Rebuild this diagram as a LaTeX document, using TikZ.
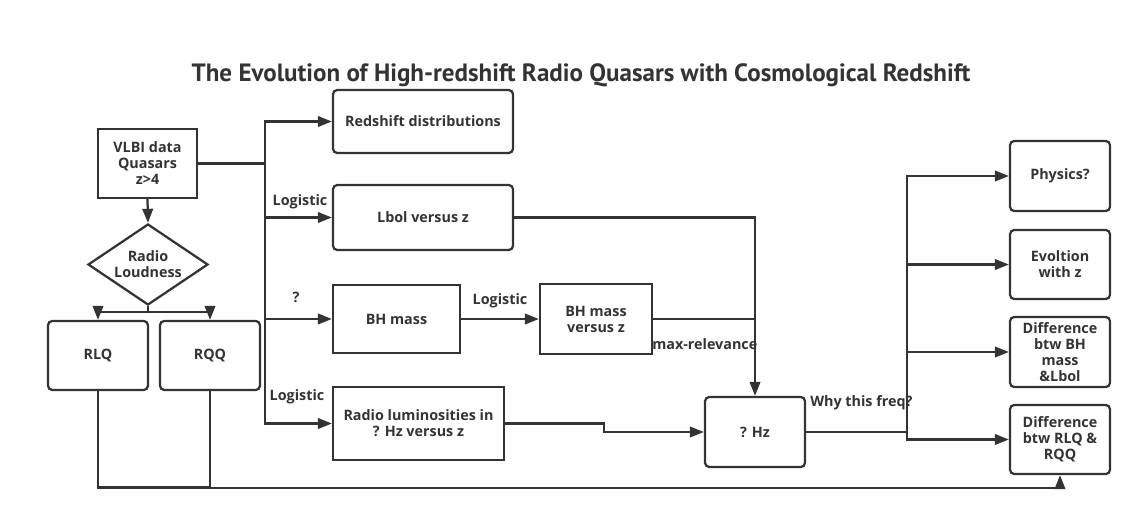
\documentclass[tikz,border=0pt]{standalone}
\usepackage{fontspec}
\setmainfont{Open Sans}
\newfontfamily\titlefont{PT Sans}
\usetikzlibrary{arrows.meta,shapes.geometric}
\definecolor{ink}{HTML}{333333}
\tikzset{
  box/.style={draw=ink, line width=1.6pt, text=ink, font=\bfseries\fontsize{10.2}{11.4}\selectfont, align=center, inner sep=0pt},
  rbox/.style={box, rounded corners=3pt},
  conn/.style={draw=ink, line width=1.6pt},
  arr/.style={conn, -{Triangle[length=10pt,width=7.5pt]}},
  lbl/.style={text=ink, font=\bfseries\fontsize{10.2}{11.4}\selectfont, inner sep=0pt},
}
\begin{document}
\begin{tikzpicture}[x=0.025cm, y=-0.025cm]
\useasboundingbox (0,0) rectangle (1142,520);
\node[text=ink, font=\titlefont\bfseries\fontsize{17.8}{20}\selectfont] (title) at (581,75) {The Evolution of High-redshift Radio Quasars with Cosmological Redshift};

\node[box, minimum width=99*0.025cm, minimum height=69*0.025cm] (vlbi) at (147.5,163.5) {VLBI data\\Quasars\\z>4};
\node[box, diamond, minimum width=120*0.025cm, minimum height=81*0.025cm, aspect=1.48] (rl) at (148,264.5) {Radio\\Loudness};
\node[rbox, minimum width=100*0.025cm, minimum height=69*0.025cm] (rlq) at (98,355.5) {RLQ};
\node[rbox, minimum width=100*0.025cm, minimum height=69*0.025cm] (rqq) at (210,355.5) {RQQ};

\node[rbox, minimum width=180*0.025cm, minimum height=63*0.025cm] (red) at (423,121.5) {Redshift distributions};
\node[rbox, minimum width=180*0.025cm, minimum height=65*0.025cm] (lbol) at (423,217.5) {Lbol versus z};
\node[box, minimum width=127*0.025cm, minimum height=68*0.025cm] (bh) at (396.5,319) {BH mass};
\node[box, minimum width=112*0.025cm, minimum height=70*0.025cm] (bhz) at (596,319) {BH mass\\versus z};
\node[box, minimum width=171*0.025cm, minimum height=73*0.025cm] (rad) at (418.5,423.5) {Radio luminosities in\\? Hz versus z};
\node[rbox, minimum width=100*0.025cm, minimum height=70*0.025cm] (hz) at (755,432) {? Hz};

\node[rbox, minimum width=100*0.025cm, minimum height=70*0.025cm] (phys) at (1060,176) {Physics?};
\node[rbox, minimum width=100*0.025cm, minimum height=69*0.025cm] (evo) at (1060,264.5) {Evoltion\\with z};
\node[rbox, minimum width=100*0.025cm, minimum height=70*0.025cm] (dbh) at (1060,352) {Difference\\btw BH\\mass\\\&Lbol};
\node[rbox, minimum width=100*0.025cm, minimum height=69*0.025cm] (drl) at (1060,439.5) {Difference\\btw RLQ \&\\RQQ};

% left part
\draw[arr] (vlbi.south) -- (rl.north);
\coordinate (split) at (148,312);
\draw[conn] (rl.south) -- (split);
\draw[arr] (split) -| (rlq.north);
\draw[arr] (split) -| (rqq.north);

% VLBI branches
\coordinate (bus) at (265,163.5);
\draw[conn] (vlbi.east) -- (bus);
\draw[arr] (bus) |- (red.west);
\draw[arr] (bus) |- (lbol.west);
\draw[arr] (bus) |- (bh.west);
\draw[arr] (bus) |- (rad.west);
\node[lbl] (l1) at (300,202) {Logistic};
\node[lbl] (l2) at (296,297) {?};
\node[lbl] (l3) at (297,397) {Logistic};

\draw[arr] (bh.east) -- (bhz.west);
\node[lbl] (l4) at (500,301) {Logistic};

\draw[arr] (lbol.east) -| (hz.north);
\draw[conn] (bhz.east) -- (755,319);
\node[lbl, anchor=west] (l5) at (652,344) {max-relevance};
\draw[arr] (rad.east) -- (604,423.5) |- (hz.west);

% right branches
\coordinate (bus2) at (907,432);
\draw[conn] (hz.east) -- (bus2);
\draw[arr] (bus2) |- (phys.west);
\draw[arr] (bus2) |- (evo.west);
\draw[arr] (bus2) |- (dbh.west);
\draw[arr] (bus2) |- (drl.west);
\node[lbl, anchor=west] (l6) at (810,403) {Why this freq?};

% bottom
\draw[conn] (rlq.south) |- (210,487.5);
\draw[arr] (rqq.south) -- (210,488) -| (drl.south);
\end{tikzpicture}
\end{document}
